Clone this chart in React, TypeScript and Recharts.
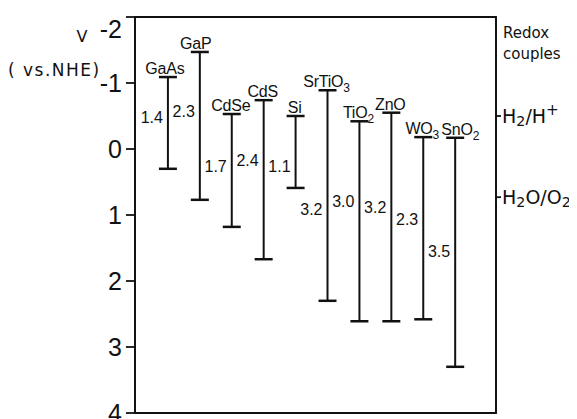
import React from 'react'
import { ComposedChart, Bar, Line, XAxis, YAxis, ReferenceArea } from 'recharts'

// semiconductor band edges, volts vs NHE (conduction band top, valence band bottom)
const materials = ['GaAs', 'GaP', 'CdSe', 'CdS', 'Si', 'SrTiO3', 'TiO2', 'ZnO', 'WO3', 'SnO2']
const conductionBand = [-1.09, -1.47, -0.53, -0.74, -0.5, -0.89, -0.42, -0.55, -0.18, -0.17]
const valenceBand = [0.3, 0.77, 1.18, 1.67, 0.59, 2.3, 2.61, 2.61, 2.58, 3.3]
const gapLabels = ['1.4', '2.3', '1.7', '2.4', '1.1', '3.2', '3.0', '3.2', '2.3', '3.5']

const voltTicks = [-2, -1, 0, 1, 2, 3, 4]
const redoxNames = ['H2/H+', 'H2O/O2']
const redoxLevels = [-0.5, 0.73]

// layout only: height (in volts) where each gap label sits, and name nudges in px
const GAP_LABEL_AT = [-0.48, -0.57, 0.26, 0.17, 0.26, 0.92, 0.8, 0.89, 1.07, 1.56]
const NAME_NUDGE: Record<string, number> = { GaAs: -3, GaP: -4, SnO2: 5 }

const data = materials.map((name, i) => ({
  idx: i,
  name,
  top: conductionBand[i],
  bottom: valenceBand[i],
  gap: gapLabels[i],
  labelAt: GAP_LABEL_AT[i],
}))

const INK = '#111'
const SANS = 'DejaVu Sans, sans-serif'
const NUM = 'Liberation Sans, Arial, sans-serif'
const X_DOMAIN: [number, number] = [-1.03, 10.28]

// digits after letters become subscripts, "+" becomes superscript
const chem = (s: string, size: number) => {
  const parts = s.match(/[0-9]+|\+|[^0-9+]+/g) || []
  let shift = 0
  return parts.map((p, k) => {
    let dy = 0
    let fs = size
    if (/^[0-9]+$/.test(p)) {
      dy = 5 - shift
      shift = 5
      fs = size * 0.75
    } else if (p === '+') {
      dy = -6 - shift
      shift = -6
      fs = size * 0.8
    } else {
      dy = -shift
      shift = 0
    }
    return (
      <tspan key={k} dy={dy} fontSize={fs}>
        {p}
      </tspan>
    )
  })
}

const Beam = (props: any) => {
  const { x, y, width, height, payload, background } = props
  const cx = x + width / 2
  const top = Math.min(y, y + height)
  const bot = Math.max(y, y + height)
  // place the gap label on the same linear scale as the bar ends
  const pxPerVolt = (bot - top) / (payload.bottom - payload.top)
  const labelY = top + (payload.labelAt - payload.top) * pxPerVolt
  const half = 9
  const nx = cx + (NAME_NUDGE[payload.name] ?? -1)
  return (
    <g>
      <g stroke={INK}>
        <line x1={cx} x2={cx} y1={top} y2={bot} strokeWidth={2} />
        <line x1={cx - half} x2={cx + half} y1={top} y2={top} strokeWidth={2.5} />
        <line x1={cx - half} x2={cx + half} y1={bot} y2={bot} strokeWidth={2.5} />
      </g>
      <text x={nx} y={top - 3} textAnchor="middle" fontFamily={NUM} fontSize={16} letterSpacing={-0.2} fill={INK}>
        {chem(payload.name, 16)}
      </text>
      <text
        x={cx - 5}
        y={labelY}
        textAnchor="end"
        dominantBaseline="central"
        fontFamily={NUM}
        fontSize={16}
        fill={INK}
      >
        {payload.gap}
      </text>
    </g>
  )
}

const VoltTick = (props: any) => {
  const { x, y, payload } = props
  // keep the top label inside the picture
  return (
    <text x={x} y={Math.max(y, 21)} textAnchor="end" dominantBaseline="central" fontFamily={NUM} fontSize={25} fill={INK}>
      {String(payload.value)}
    </text>
  )
}

const RedoxTick = (props: any) => {
  const { x, y, payload } = props
  const i = redoxLevels.indexOf(payload.value)
  return (
    <text x={x} y={y} dominantBaseline="central" fontFamily={SANS} fontSize={19} fill={INK}>
      {chem(redoxNames[i] ?? '', 19)}
    </text>
  )
}

export default function App() {
  return (
    <ComposedChart width={569} height={411} data={data} margin={{ top: 9, right: 0, bottom: 6, left: 0 }}>
      <XAxis type="number" dataKey="idx" domain={X_DOMAIN} tick={false} tickLine={false} height={0} stroke={INK} strokeWidth={1.5} />
      <XAxis xAxisId="top" orientation="top" type="number" dataKey="idx" domain={X_DOMAIN} tick={false} tickLine={false} height={0} stroke={INK} strokeWidth={1.5} />
      <YAxis
        domain={[-2, 4]}
        reversed
        ticks={voltTicks}
        interval={0}
        width={127}
        tickSize={9}
        tickMargin={4}
        stroke={INK}
        strokeWidth={1.8}
        tick={<VoltTick />}
      />
      <YAxis
        yAxisId="right"
        orientation="right"
        domain={[-2, 4]}
        reversed
        ticks={redoxLevels}
        interval={0}
        width={81}
        tickSize={5}
        tickMargin={1}
        stroke={INK}
        strokeWidth={1.8}
        tick={<RedoxTick />}
      />
      <ReferenceArea x1={X_DOMAIN[0]} x2={X_DOMAIN[1]} y1={-2} y2={4} fill="none" stroke={INK} strokeWidth={1.8} ifOverflow="visible" />
      <Bar dataKey={(d: any) => [d.top, d.bottom]} barSize={18} shape={<Beam />} isAnimationActive={false} />
      {/* binds the top and right axes so they draw their ticks */}
      <Line xAxisId="top" yAxisId="right" dataKey="top" stroke="none" dot={false} activeDot={false} isAnimationActive={false} />
      <text x={74} y={34} textAnchor="middle" fontFamily={SANS} fontSize={16} fill={INK}>
        V
      </text>
      <text x={0} y={68} fontFamily={SANS} fontSize={17} letterSpacing={1.5} fill={INK}>
        ( vs.NHE)
      </text>
      <text x={495} y={30} fontFamily={SANS} fontSize={15} fill={INK}>
        Redox
      </text>
      <text x={495} y={51} fontFamily={SANS} fontSize={15} fill={INK}>
        couples
      </text>
    </ComposedChart>
  )
}
